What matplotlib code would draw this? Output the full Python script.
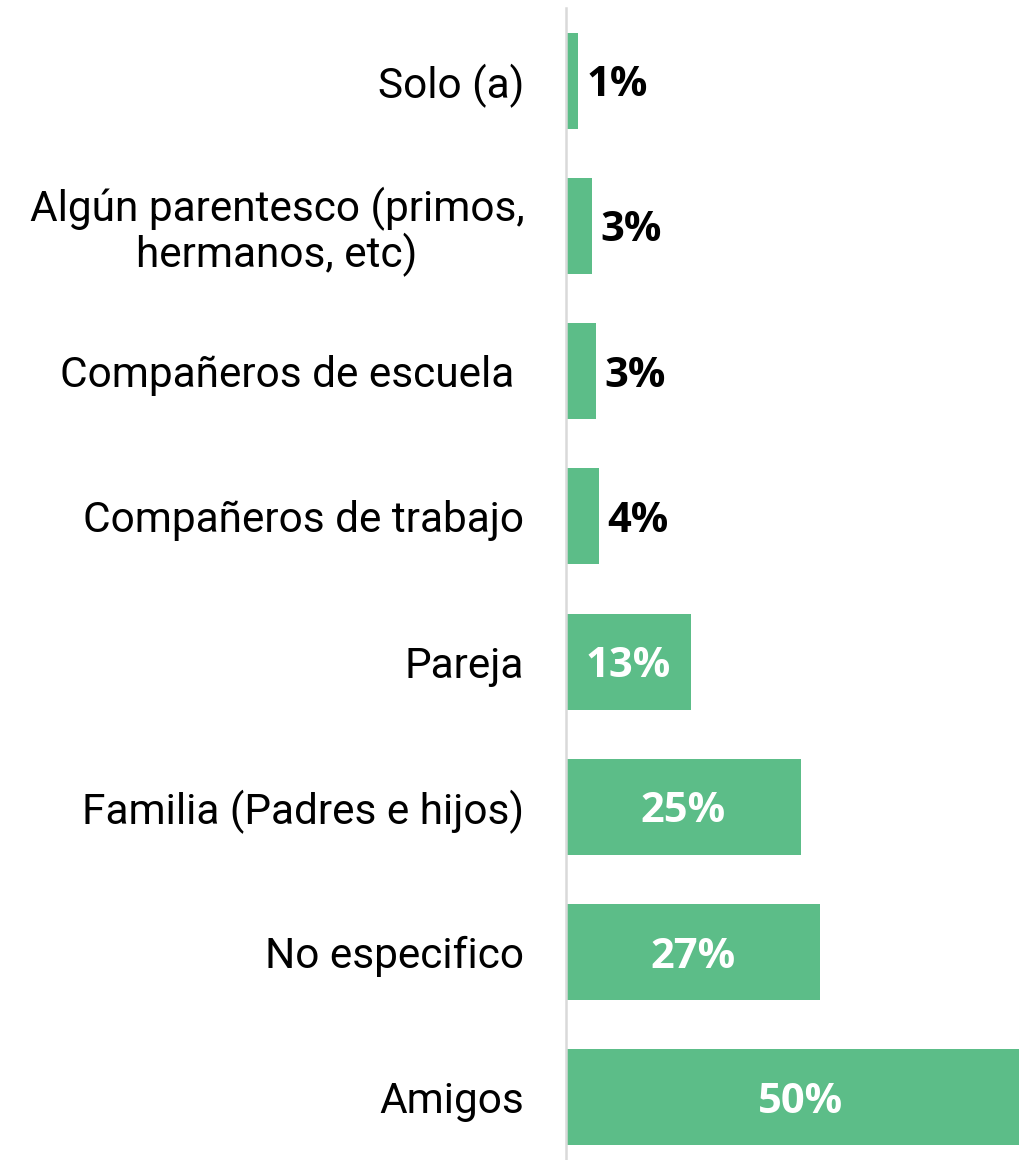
import matplotlib
matplotlib.use("Agg")
import matplotlib.pyplot as plt

categories = ["Solo (a)", "Algún parentesco (primos,\nhermanos, etc)", "Compañeros de escuela ",
              "Compañeros de trabajo", "Pareja", "Familia (Padres e hijos)", "No especifico", "Amigos"]
values = [1.3, 2.8, 3.2, 3.5, 13.3, 25.0, 27.0, 50.0]
labels = ["1%", "3%", "3%", "4%", "13%", "25%", "27%", "50%"]

BAR = "#5cbd88"
fig = plt.figure(figsize=(10.19, 11.6), dpi=100)
ax = fig.add_axes([566/1019, -10/1160, 453/1019, 1162/1160])

y = list(range(len(categories)))
ax.barh(y, values, height=0.66, color=BAR, zorder=2)
ax.set_ylim(len(categories) - 0.5, -0.5)
ax.set_xlim(0, 48.2)

for s in ["top", "right", "bottom"]:
    ax.spines[s].set_visible(False)
ax.spines["left"].set_color("#d9d9d9")
ax.spines["left"].set_linewidth(1.8)
ax.set_xticks([])
ax.set_yticks(y)
ax.set_yticklabels(categories, fontsize=30.5, family="Roboto", multialignment="center",
                   linespacing=1.05)
ax.tick_params(axis="y", length=0, pad=30)

for i, (v, lab) in enumerate(zip(values, labels)):
    if v >= 10:
        ax.text(v / 2, i, lab, ha="center", va="center_baseline", color="white",
                fontsize=30, fontweight="bold", family="Open Sans", clip_on=False)
    else:
        ax.text(v + 0.9, i, lab, ha="left", va="center_baseline", color="black",
                fontsize=30, fontweight="bold", family="Open Sans")

fig.savefig("out.png", dpi=100)
